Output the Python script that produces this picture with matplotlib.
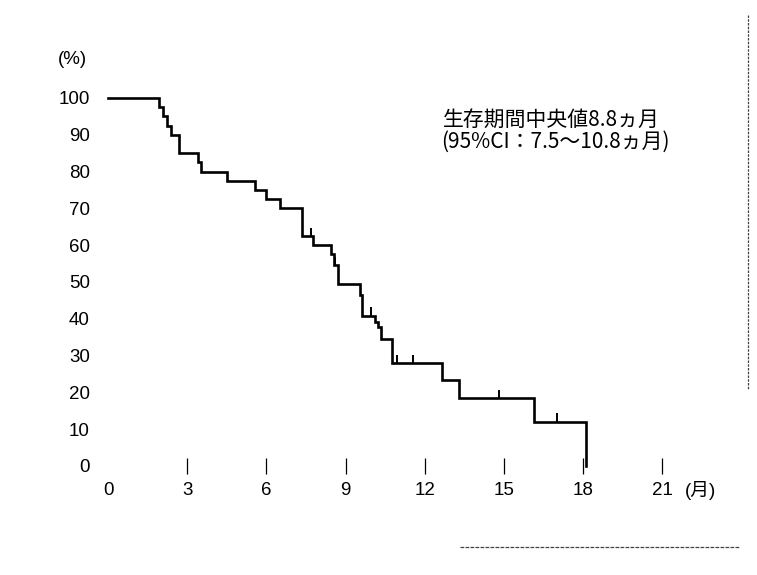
import numpy as np
import matplotlib
matplotlib.use("Agg")
import matplotlib.pyplot as plt
from matplotlib.lines import Line2D

plt.rcParams['font.family'] = ['Liberation Sans', 'Noto Sans CJK JP', 'DejaVu Sans']

# Kaplan-Meier estimate: step times (months) and survival after each step (%)
step_times = [0.0, 1.94, 2.07, 2.25, 2.38, 2.70, 3.42, 3.51, 4.52, 5.57, 5.97,
              6.52, 7.34, 7.78, 8.45, 8.55, 8.72, 9.55, 9.63, 10.11, 10.23,
              10.34, 10.75, 12.66, 13.30, 16.14, 18.10]
survival = [100, 97.5, 95, 92.5, 90, 85, 82.5, 80, 77.5, 75, 72.5,
            70, 62.5, 60, 57.5, 54.5, 49.5, 46.5, 40.8, 39.2, 37.7,
            34.4, 27.9, 23.4, 18.4, 12.0, 0]
# censored observations (months)
censor_times = [7.70, 8.60, 9.95, 10.95, 11.56, 14.82, 17.02]

x_ticks = [0, 3, 6, 9, 12, 15, 18, 21]
y_ticks = [0, 10, 20, 30, 40, 50, 60, 70, 80, 90, 100]

W, H = 757, 575
fig = plt.figure(figsize=(W / 100, H / 100), dpi=100)
x0_px, x_scale = 108, 26.4   # px per month
y0_px, y100_px = 466, 98
ax = fig.add_axes([x0_px / W, (H - y0_px) / H,
                   24 * x_scale / W, (y0_px - y100_px) / H])
ax.set_xlim(0, 24)
ax.set_ylim(0, 100)
for s in ax.spines.values():
    s.set_visible(False)

ax.step(step_times, survival, where='post', color='black', lw=1.9,
        solid_joinstyle='miter', clip_on=False)

# censor marks sit on the curve, pointing upward
st = np.array(step_times)
sv = np.array(survival)
for t in censor_times:
    level = sv[np.searchsorted(st, t, side='right') - 1]
    ax.vlines(t, level, level + 2.3, color='black', lw=1.4, clip_on=False)

ax.set_xticks(x_ticks)
ax.set_xticklabels([str(v) for v in x_ticks])
ax.tick_params(axis='x', direction='inout', length=11, width=0.9,
               pad=6, labelsize=13.5)
ax.xaxis.get_major_ticks()[0].tick1line.set_visible(False)
ax.set_yticks(y_ticks)
ax.set_yticklabels([str(v) for v in y_ticks])
ax.tick_params(axis='y', length=0, pad=13, labelsize=13.5)

ax.text(22.45, -6.6, '(月)', fontsize=13.5, ha='center', va='center',
        clip_on=False)
ax.text(-1.33, 110.5, '(%)', fontsize=13.5, ha='center', va='center',
        clip_on=False)

ax.text(12.7, 94.0, '生存期間中央値8.8ヵ月', fontsize=15,
        ha='left', va='center',
        family=['Noto Sans CJK JP', 'DejaVu Sans'])
ax.text(12.6, 88.2, '(95%CI：7.5〜10.8ヵ月)', fontsize=15,
        ha='left', va='center',
        family=['Noto Sans CJK JP', 'DejaVu Sans'])

# page edges
fig.add_artist(Line2D([748 / W, 748 / W], [1 - 15 / H, 1 - 390 / H],
                      color='#444444', lw=0.9, ls=(0, (2, 1))))
fig.add_artist(Line2D([460 / W, 740 / W], [1 - 547 / H, 1 - 547 / H],
                      color='#444444', lw=0.9, ls=(0, (3, 1))))

fig.savefig('out.png', dpi=100, facecolor='white')
